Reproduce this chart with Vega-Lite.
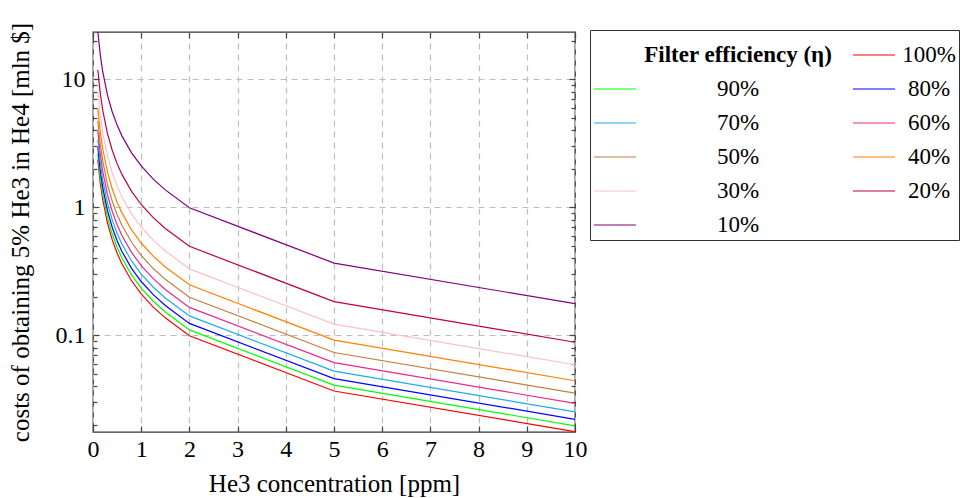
{
  "$schema": "https://vega.github.io/schema/vega-lite/v6.json",
  "width": 482,
  "height": 400,
  "autosize": {"type": "none"},
  "padding": {"left": 93, "top": 32, "right": 389, "bottom": 66},
  "background": "white",
  "config": {
    "view": {"stroke": "#333333", "strokeWidth": 1.3},
    "font": "Liberation Serif",
    "legend": {"labelFont": "Liberation Serif"}
  },
  "data": {"values": [
    {"x":0.1,"eff":"100%","cost":2.36},{"x":0.15,"eff":"100%","cost":1.565},{"x":0.2,"eff":"100%","cost":1.155},{"x":0.3,"eff":"100%","cost":0.752},{"x":0.4,"eff":"100%","cost":0.555},{"x":0.5,"eff":"100%","cost":0.438},{"x":0.6,"eff":"100%","cost":0.361},{"x":0.8,"eff":"100%","cost":0.266},{"x":1,"eff":"100%","cost":0.21},{"x":1.25,"eff":"100%","cost":0.1657},{"x":1.5,"eff":"100%","cost":0.1365},{"x":2,"eff":"100%","cost":0.0989},{"x":5,"eff":"100%","cost":0.0366},{"x":10,"eff":"100%","cost":0.0176},
    {"x":0.1,"eff":"90%","cost":2.622},{"x":0.15,"eff":"90%","cost":1.739},{"x":0.2,"eff":"90%","cost":1.283},{"x":0.3,"eff":"90%","cost":0.8356},{"x":0.4,"eff":"90%","cost":0.6167},{"x":0.5,"eff":"90%","cost":0.4867},{"x":0.6,"eff":"90%","cost":0.4011},{"x":0.8,"eff":"90%","cost":0.2956},{"x":1,"eff":"90%","cost":0.2333},{"x":1.25,"eff":"90%","cost":0.1841},{"x":1.5,"eff":"90%","cost":0.1517},{"x":2,"eff":"90%","cost":0.1099},{"x":5,"eff":"90%","cost":0.04067},{"x":10,"eff":"90%","cost":0.01956},
    {"x":0.1,"eff":"80%","cost":2.95},{"x":0.15,"eff":"80%","cost":1.956},{"x":0.2,"eff":"80%","cost":1.444},{"x":0.3,"eff":"80%","cost":0.94},{"x":0.4,"eff":"80%","cost":0.694},{"x":0.5,"eff":"80%","cost":0.5475},{"x":0.6,"eff":"80%","cost":0.451},{"x":0.8,"eff":"80%","cost":0.3325},{"x":1,"eff":"80%","cost":0.2625},{"x":1.25,"eff":"80%","cost":0.2071},{"x":1.5,"eff":"80%","cost":0.1706},{"x":2,"eff":"80%","cost":0.1236},{"x":5,"eff":"80%","cost":0.04575},{"x":10,"eff":"80%","cost":0.022},
    {"x":0.1,"eff":"70%","cost":3.371},{"x":0.15,"eff":"70%","cost":2.236},{"x":0.2,"eff":"70%","cost":1.65},{"x":0.3,"eff":"70%","cost":1.074},{"x":0.4,"eff":"70%","cost":0.7929},{"x":0.5,"eff":"70%","cost":0.6257},{"x":0.6,"eff":"70%","cost":0.5157},{"x":0.8,"eff":"70%","cost":0.38},{"x":1,"eff":"70%","cost":0.3},{"x":1.25,"eff":"70%","cost":0.2367},{"x":1.5,"eff":"70%","cost":0.195},{"x":2,"eff":"70%","cost":0.1413},{"x":5,"eff":"70%","cost":0.05229},{"x":10,"eff":"70%","cost":0.02514},
    {"x":0.1,"eff":"60%","cost":3.933},{"x":0.15,"eff":"60%","cost":2.608},{"x":0.2,"eff":"60%","cost":1.925},{"x":0.3,"eff":"60%","cost":1.253},{"x":0.4,"eff":"60%","cost":0.925},{"x":0.5,"eff":"60%","cost":0.73},{"x":0.6,"eff":"60%","cost":0.6017},{"x":0.8,"eff":"60%","cost":0.4433},{"x":1,"eff":"60%","cost":0.35},{"x":1.25,"eff":"60%","cost":0.2762},{"x":1.5,"eff":"60%","cost":0.2275},{"x":2,"eff":"60%","cost":0.1648},{"x":5,"eff":"60%","cost":0.061},{"x":10,"eff":"60%","cost":0.02933},
    {"x":0.1,"eff":"50%","cost":4.72},{"x":0.15,"eff":"50%","cost":3.13},{"x":0.2,"eff":"50%","cost":2.31},{"x":0.3,"eff":"50%","cost":1.504},{"x":0.4,"eff":"50%","cost":1.11},{"x":0.5,"eff":"50%","cost":0.876},{"x":0.6,"eff":"50%","cost":0.722},{"x":0.8,"eff":"50%","cost":0.532},{"x":1,"eff":"50%","cost":0.42},{"x":1.25,"eff":"50%","cost":0.3314},{"x":1.5,"eff":"50%","cost":0.273},{"x":2,"eff":"50%","cost":0.1978},{"x":5,"eff":"50%","cost":0.0732},{"x":10,"eff":"50%","cost":0.0352},
    {"x":0.1,"eff":"40%","cost":5.9},{"x":0.15,"eff":"40%","cost":3.913},{"x":0.2,"eff":"40%","cost":2.888},{"x":0.3,"eff":"40%","cost":1.88},{"x":0.4,"eff":"40%","cost":1.388},{"x":0.5,"eff":"40%","cost":1.095},{"x":0.6,"eff":"40%","cost":0.9025},{"x":0.8,"eff":"40%","cost":0.665},{"x":1,"eff":"40%","cost":0.525},{"x":1.25,"eff":"40%","cost":0.4143},{"x":1.5,"eff":"40%","cost":0.3413},{"x":2,"eff":"40%","cost":0.2473},{"x":5,"eff":"40%","cost":0.0915},{"x":10,"eff":"40%","cost":0.044},
    {"x":0.1,"eff":"30%","cost":7.867},{"x":0.15,"eff":"30%","cost":5.217},{"x":0.2,"eff":"30%","cost":3.85},{"x":0.3,"eff":"30%","cost":2.507},{"x":0.4,"eff":"30%","cost":1.85},{"x":0.5,"eff":"30%","cost":1.46},{"x":0.6,"eff":"30%","cost":1.203},{"x":0.8,"eff":"30%","cost":0.8867},{"x":1,"eff":"30%","cost":0.7},{"x":1.25,"eff":"30%","cost":0.5523},{"x":1.5,"eff":"30%","cost":0.455},{"x":2,"eff":"30%","cost":0.3297},{"x":5,"eff":"30%","cost":0.122},{"x":10,"eff":"30%","cost":0.05867},
    {"x":0.1,"eff":"20%","cost":11.8},{"x":0.15,"eff":"20%","cost":7.825},{"x":0.2,"eff":"20%","cost":5.775},{"x":0.3,"eff":"20%","cost":3.76},{"x":0.4,"eff":"20%","cost":2.775},{"x":0.5,"eff":"20%","cost":2.19},{"x":0.6,"eff":"20%","cost":1.805},{"x":0.8,"eff":"20%","cost":1.33},{"x":1,"eff":"20%","cost":1.05},{"x":1.25,"eff":"20%","cost":0.8285},{"x":1.5,"eff":"20%","cost":0.6825},{"x":2,"eff":"20%","cost":0.4945},{"x":5,"eff":"20%","cost":0.183},{"x":10,"eff":"20%","cost":0.088},
    {"x":0.1,"eff":"10%","cost":23.6},{"x":0.15,"eff":"10%","cost":15.65},{"x":0.2,"eff":"10%","cost":11.55},{"x":0.3,"eff":"10%","cost":7.52},{"x":0.4,"eff":"10%","cost":5.55},{"x":0.5,"eff":"10%","cost":4.38},{"x":0.6,"eff":"10%","cost":3.61},{"x":0.8,"eff":"10%","cost":2.66},{"x":1,"eff":"10%","cost":2.1},{"x":1.25,"eff":"10%","cost":1.657},{"x":1.5,"eff":"10%","cost":1.365},{"x":2,"eff":"10%","cost":0.989},{"x":5,"eff":"10%","cost":0.366},{"x":10,"eff":"10%","cost":0.176}
  ]},
  "layer": [
    {
      "mark": {"type": "line", "clip": true, "strokeWidth": 1.2},
      "encoding": {
        "x": {
          "field": "x", "type": "quantitative",
          "scale": {"domain": [0, 10], "nice": false},
          "axis": {
            "orient": "bottom",
            "values": [0,1,2,3,4,5,6,7,8,9,10],
            "title": "He3 concentration [ppm]",
            "domain": false, "labelFlush": false, "labelOverlap": false,
            "tickSize": -6, "tickColor": "#444444", "tickWidth": 1.2,
            "labelPadding": 11, "labelFontSize": 24, "labelColor": "black", "labelFont": "Liberation Serif",
            "titleFontSize": 25, "titleFontWeight": "normal", "titleColor": "black", "titleFont": "Liberation Serif", "titlePadding": 10,
            "grid": true, "gridDash": [6, 5], "gridColor": "#bdbdbd", "gridWidth": 1.2
          }
        },
        "y": {
          "field": "cost", "type": "quantitative",
          "scale": {"type": "log", "domain": [0.0175, 23.4], "nice": false},
          "axis": {
            "orient": "left",
            "values": [0.02,0.03,0.04,0.05,0.06,0.07,0.08,0.09,0.1,0.2,0.3,0.4,0.5,0.6,0.7,0.8,0.9,1,2,3,4,5,6,7,8,9,10,20],
            "labelExpr": "datum.value == 0.1 ? '0.1' : datum.value == 1 ? '1' : datum.value == 10 ? '10' : ''",
            "title": "costs of obtaining 5% He3 in He4 [mln $]",
            "domain": false, "labelOverlap": false,
            "tickSize": {"condition": {"test": "datum.value == 0.1 || datum.value == 1 || datum.value == 10", "value": -6}, "value": -4},
            "tickColor": "#444444", "tickWidth": 1.2,
            "labelPadding": 14, "labelFontSize": 24, "labelColor": "black", "labelFont": "Liberation Serif",
            "titleFontSize": 25, "titleFontWeight": "normal", "titleColor": "black", "titleFont": "Liberation Serif", "titlePadding": 22,
            "grid": true,
            "gridOpacity": {"condition": {"test": "datum.value == 0.1 || datum.value == 1 || datum.value == 10", "value": 1}, "value": 0},
            "gridDash": [6, 5], "gridColor": "#bdbdbd", "gridWidth": 1.2
          }
        },
        "color": {
          "field": "eff", "type": "nominal",
          "scale": {
            "domain": ["Filter efficiency (η)", "100%", "90%", "80%", "70%", "60%", "50%", "40%", "30%", "20%", "10%"],
            "range": ["rgba(0,0,0,0)", "#ff0000", "#00ff00", "#0000ff", "#1eaaf0", "#ee2590", "#bf8040", "#ff8000", "#ffc0cb", "#bf0040", "#800080"]
          },
          "legend": {
            "orient": "none", "legendX": 497, "legendY": -2, "columns": 2, "direction": "horizontal", "title": null,
            "symbolType": "stroke", "symbolSize": 1764, "symbolStrokeWidth": 1.2,
            "labelFontSize": 23, "labelFont": "Liberation Serif", "labelColor": "black",
            "labelFontWeight": {"expr": "datum.label == 'Filter efficiency (η)' ? 'bold' : 'normal'"},
            "labelAlign": "center",
            "labelOffset": {"expr": "indexof(['Filter efficiency (η)', '90%', '70%', '50%', '30%', '10%'], datum.label) >= 0 ? 101 : 33"},
            "labelLimit": 400,
            "strokeColor": "#333333", "fillColor": "white", "padding": 3,
            "rowPadding": -3.8, "columnPadding": 17
          }
        }
      }
    },
    {
      "mark": {"type": "line", "clip": true, "strokeOpacity": 0},
      "encoding": {
        "detail": {"field": "eff"},
        "x": {
          "field": "x", "type": "quantitative",
          "axis": {
            "orient": "top", "values": [0,1,2,3,4,5,6,7,8,9,10], "labels": false, "title": null,
            "domain": false, "grid": false, "tickSize": -6, "tickColor": "#444444", "tickWidth": 1.2
          }
        },
        "y": {
          "field": "cost", "type": "quantitative",
          "axis": {
            "orient": "right",
            "values": [0.02,0.03,0.04,0.05,0.06,0.07,0.08,0.09,0.1,0.2,0.3,0.4,0.5,0.6,0.7,0.8,0.9,1,2,3,4,5,6,7,8,9,10,20],
            "labels": false, "title": null, "domain": false, "grid": false,
            "tickSize": {"condition": {"test": "datum.value == 0.1 || datum.value == 1 || datum.value == 10", "value": -6}, "value": -4},
            "tickColor": "#444444", "tickWidth": 1.2
          }
        }
      }
    }
  ],
  "resolve": {"axis": {"x": "independent", "y": "independent"}}
}
